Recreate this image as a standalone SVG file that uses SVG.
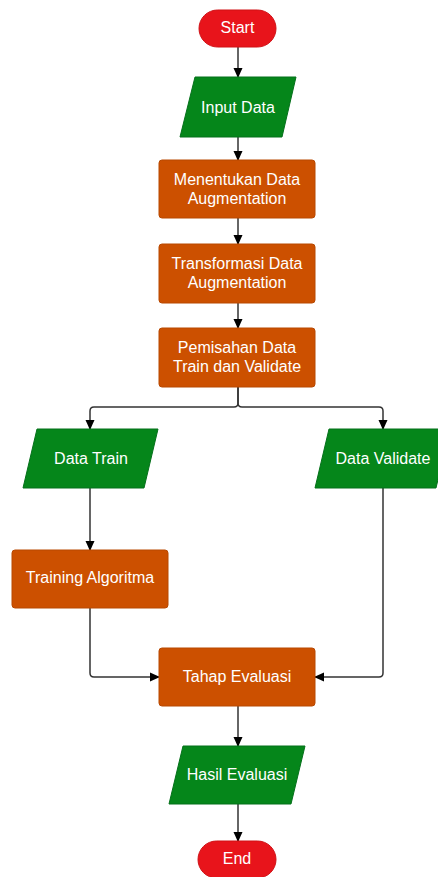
<svg xmlns="http://www.w3.org/2000/svg" width="438" height="877" viewBox="0 0 438 877">
<defs>
<marker id="ah" markerWidth="10" markerHeight="10" refX="9" refY="5" orient="auto" markerUnits="userSpaceOnUse">
<path d="M0,0.5 L10,5 L0,9.5 Z" fill="#000"/>
</marker>
<style>
.term{fill:#E8141B;stroke:#D01015;stroke-width:1}
.io{fill:#05861A;stroke:#04701A;stroke-width:1;stroke-linejoin:round}
.proc{fill:#CC5000;stroke:#B84800;stroke-width:1}
.t{font-family:"Liberation Sans",Arial,sans-serif;font-size:16px;fill:#fff;text-anchor:middle}
.c{fill:none;stroke:#333;stroke-width:1.5;marker-end:url(#ah)}
</style>
</defs>
<rect width="438" height="877" fill="#fff"/>
<g id="connectors">
<path class="c" d="M238,47 V77"/>
<path class="c" d="M238,137 V160"/>
<path class="c" d="M238,218 V244"/>
<path class="c" d="M238,303 V328"/>
<path class="c" d="M238,387 V403 Q238,407 234,407 H94 Q90,407 90,411 V429"/>
<path class="c" d="M238,387 V403 Q238,407 242,407 H379 Q383,407 383,411 V429"/>
<path class="c" d="M90,488 V550"/>
<path class="c" d="M90,608 V673 Q90,677 94,677 H159"/>
<path class="c" d="M383,488 V673 Q383,677 379,677 H315"/>
<path class="c" d="M238,706 V746"/>
<path class="c" d="M238,804 V841"/>
</g>
<g id="start">
<rect class="term" x="199" y="10" width="77" height="37" rx="18.5"/>
<text class="t" x="237.5" y="33">Start</text>
</g>
<g id="input-data">
<path class="io" d="M195,77 H296 L282,137 H180 Z"/>
<text class="t" x="238" y="113">Input Data</text>
</g>
<g id="menentukan">
<rect class="proc" x="159" y="160" width="156" height="58" rx="3"/>
<text class="t" x="237" y="185">Menentukan Data</text>
<text class="t" x="237" y="204">Augmentation</text>
</g>
<g id="transformasi">
<rect class="proc" x="159" y="244" width="156" height="59" rx="3"/>
<text class="t" x="237" y="269">Transformasi Data</text>
<text class="t" x="237" y="288">Augmentation</text>
</g>
<g id="pemisahan">
<rect class="proc" x="159" y="328" width="156" height="59" rx="3"/>
<text class="t" x="237" y="353">Pemisahan Data</text>
<text class="t" x="237" y="372">Train dan Validate</text>
</g>
<g id="data-train">
<path class="io" d="M37,429 H158 L144,488 H23 Z"/>
<text class="t" x="91" y="464">Data Train</text>
</g>
<g id="data-validate">
<path class="io" d="M329,429 H450 L436,488 H315 Z"/>
<text class="t" x="383" y="464">Data Validate</text>
</g>
<g id="training">
<rect class="proc" x="12" y="550" width="156" height="58" rx="3"/>
<text class="t" x="90" y="583">Training Algoritma</text>
</g>
<g id="tahap-evaluasi">
<rect class="proc" x="159" y="648" width="156" height="58" rx="3"/>
<text class="t" x="237" y="682">Tahap Evaluasi</text>
</g>
<g id="hasil-evaluasi">
<path class="io" d="M183,746 H305 L291,804 H169 Z"/>
<text class="t" x="237" y="780">Hasil Evaluasi</text>
</g>
<g id="end">
<rect class="term" x="198" y="841" width="78" height="37" rx="18.5"/>
<text class="t" x="237" y="864">End</text>
</g>
</svg>
